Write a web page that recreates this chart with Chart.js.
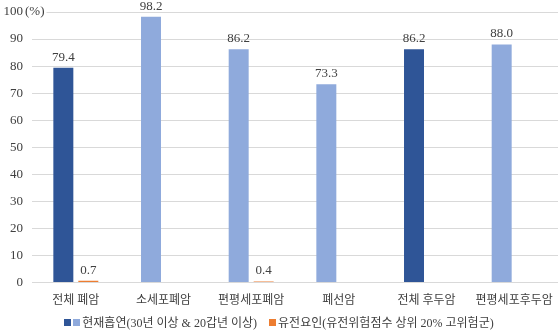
<!DOCTYPE html>
<html>
<head>
<meta charset="utf-8">
<script src="https://cdn.jsdelivr.net/npm/chart.js@4/dist/chart.umd.min.js"></script>
<style>
  html, body { margin: 0; padding: 0; background: #fff; }
  #wrap { position: relative; width: 558px; height: 330px; }
  #legend {
    position: absolute; left: 0; top: 313px; width: 558px;
    text-align: center; font-family: "Liberation Serif", "Noto Sans CJK KR", serif;
    font-size: 12px; color: #404040; white-space: nowrap;
  }
  #legend .sw { display: inline-block; width: 7px; height: 7px; margin-right: 2px; vertical-align: 1px; }
  #legend .item { margin: 0 6px; }
</style>
</head>
<body>
<div id="wrap">
  <canvas id="chart" width="558" height="330"></canvas>
  <div id="legend"></div>
</div>
<script>
// 데이터
const categories = ['전체 폐암', '소세포폐암', '편평세포폐암', '폐선암', '전체 후두암', '편평세포후두암'];
const smokingValues = [79.4, 98.2, 86.2, 73.3, 86.2, 88.0];
const geneticValues = [0.7, null, 0.4, null, null, null];
const smokingLabel = '현재흡연(30년 이상 & 20갑년 이상)';
const geneticLabel = '유전요인(유전위험점수 상위 20% 고위험군)';
const yTicks = [0, 10, 20, 30, 40, 50, 60, 70, 80, 90, 100];

const darkBlue = '#2F5597';
const lightBlue = '#8FAADC';
const orange = '#ED7D31';
const fontFamily = '"Liberation Serif", "Noto Sans CJK KR", serif';

// 전체 폐암 / 전체 후두암 은 진한 파랑
const smokingColors = categories.map(c => c.startsWith('전체') ? darkBlue : lightBlue);

// 막대 위 값 표시
const valueLabels = {
    id: 'valueLabels',
    afterDatasetsDraw(chart) {
        const ctx = chart.ctx;
        ctx.save();
        ctx.font = '13px ' + fontFamily;
        ctx.fillStyle = '#404040';
        ctx.textAlign = 'center';
        ctx.textBaseline = 'bottom';
        chart.data.datasets.forEach((ds, i) => {
            chart.getDatasetMeta(i).data.forEach((bar, j) => {
                const v = ds.data[j];
                if (v === null || v === undefined) return;
                ctx.fillText(v.toFixed(1), bar.x, bar.y - 4);
            });
        });
        ctx.restore();
    }
};

// 100 옆에 (%) 단위
const unitLabel = {
    id: 'unitLabel',
    afterDraw(chart) {
        const ctx = chart.ctx;
        const y = chart.scales.y.getPixelForValue(100);
        ctx.save();
        ctx.font = '13px ' + fontFamily;
        const w = ctx.measureText('(%)').width;
        ctx.fillStyle = '#fff';
        ctx.fillRect(23, y - 4, w + 4, 8);
        ctx.fillStyle = '#404040';
        ctx.textAlign = 'left';
        ctx.textBaseline = 'middle';
        ctx.fillText('(%)', 25, y);
        ctx.restore();
    }
};

const ctx = document.getElementById('chart').getContext('2d');
new Chart(ctx, {
    type: 'bar',
    data: {
        labels: categories,
        datasets: [
            {
                label: smokingLabel,
                data: smokingValues,
                backgroundColor: smokingColors,
                barPercentage: 0.8,
                categoryPercentage: 0.57
            },
            {
                label: geneticLabel,
                data: geneticValues,
                backgroundColor: orange,
                barPercentage: 0.8,
                categoryPercentage: 0.57
            }
        ]
    },
    options: {
        responsive: false,
        animation: false,
        layout: { padding: { top: 0, right: 0, bottom: 19, left: 0 } },
        plugins: {
            legend: { display: false },
            tooltip: { enabled: false }
        },
        scales: {
            x: {
                grid: { display: false },
                border: { display: false },
                ticks: {
                    color: '#404040',
                    font: { family: fontFamily, size: 12 },
                    padding: 3,
                    maxRotation: 0,
                    autoSkip: false
                }
            },
            y: {
                min: 0,
                max: 100,
                afterBuildTicks(scale) {
                    scale.ticks = yTicks.map(v => ({ value: v }));
                },
                afterFit(scale) {
                    scale.width = 32;
                    scale.paddingTop = 12;
                },
                grid: { color: '#d9d9d9', drawTicks: false },
                border: { display: false },
                ticks: {
                    color: '#404040',
                    font: { family: fontFamily, size: 13 },
                    padding: 9
                }
            }
        }
    },
    plugins: [valueLabels, unitLabel]
});

// 범례
document.getElementById('legend').innerHTML =
    '<span class="item"><span class="sw" style="background:' + darkBlue + '"></span>' +
    '<span class="sw" style="background:' + lightBlue + '"></span>' + smokingLabel + '</span>' +
    '<span class="item"><span class="sw" style="background:' + orange + '"></span>' + geneticLabel + '</span>';
</script>
</body>
</html>
